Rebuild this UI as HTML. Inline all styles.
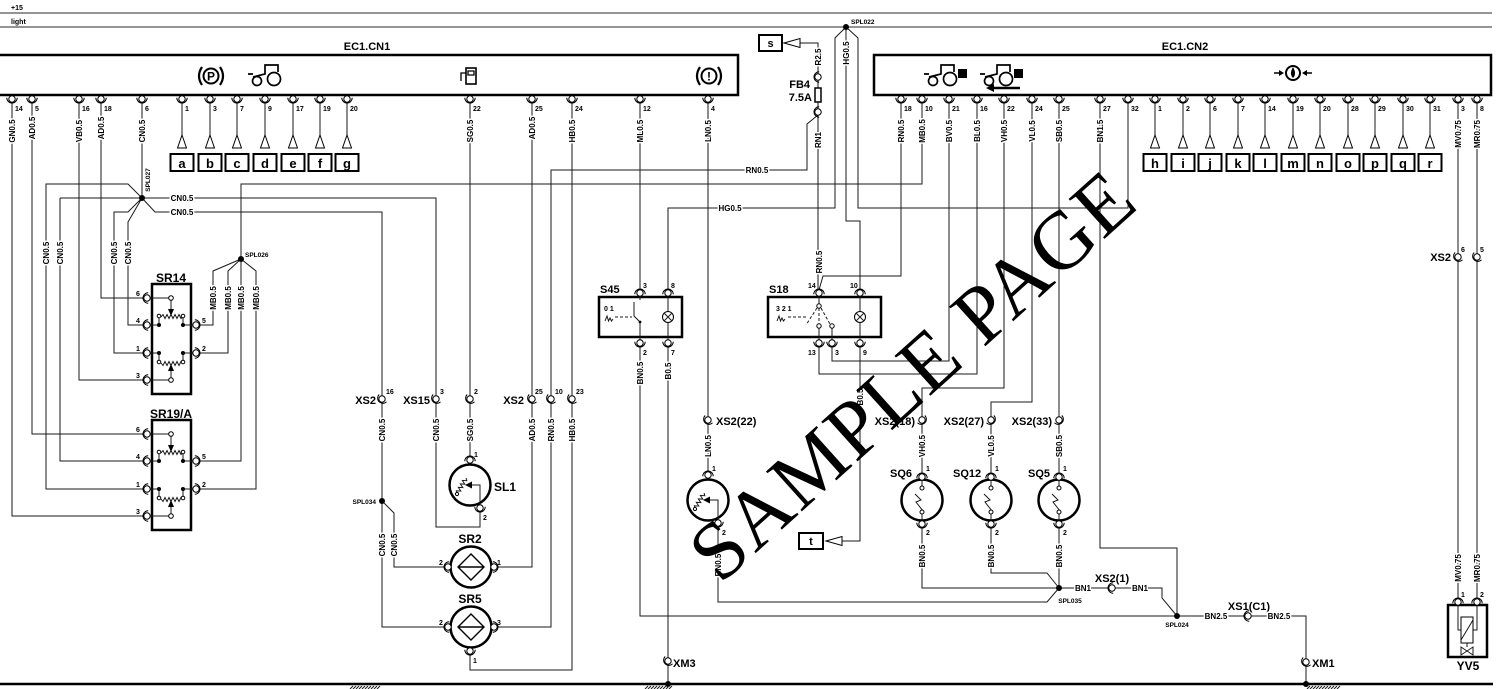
<!DOCTYPE html>
<html><head><meta charset="utf-8"><title>Wiring diagram</title>
<style>
html,body{margin:0;padding:0;background:#fff;width:1500px;height:689px;overflow:hidden}
svg{display:block}
text{font-family:"Liberation Sans",Arial,sans-serif;font-weight:bold;fill:#000}
.w{fill:none;stroke:#1a1a1a;stroke-width:1}
.b{fill:none;stroke:#000;stroke-width:2.5}
.f{fill:#fff;stroke:#000;stroke-width:1}
.wl{font-size:8px;stroke:#fff;stroke-width:3px;paint-order:stroke;stroke-linejoin:round}
.pn{font-size:7px}
.cl{font-size:12px}
.lb{font-size:11px}
.sp{font-size:6.5px}
.lt{font-size:13px}
</style></head><body>
<svg width="1500" height="689" viewBox="0 0 1500 689" xmlns="http://www.w3.org/2000/svg">
<defs>
<g id="pd"><path d="M-5.2,-1.2 A5.2,5.2 0 0 0 5.2,-1.2" fill="none" stroke="#000" stroke-width="1"/><circle r="3.2" fill="#fff" stroke="#000" stroke-width="1"/></g>
<g id="tr" fill="none" stroke="#000" stroke-width="1.7"><circle cx="9" cy="3" r="6.5"/><circle cx="-8" cy="5" r="4.5"/><path d="M-12,1 L0,-2 V-11 H13 V-4 M-17,-2 H-12"/></g>
</defs>

<!-- rails -->
<line x1="0" y1="13" x2="1492" y2="13" stroke="#555" stroke-width="1.3"/>
<line x1="0" y1="27" x2="1492" y2="27" stroke="#555" stroke-width="1.3"/>
<text x="11" y="10" font-size="7">+15</text>
<text x="11" y="24" font-size="7">light</text>
<text x="851" y="24" class="sp">SPL022</text>

<!-- connector boxes -->
<rect x="-3" y="55" width="741" height="40" class="b"/>
<rect x="874" y="55" width="617" height="40" class="b"/>
<text x="367" y="50" font-size="11" text-anchor="middle">EC1.CN1</text>
<text x="1185" y="50" font-size="11" text-anchor="middle">EC1.CN2</text>

<!-- icons CN1 -->
<circle cx="211" cy="76" r="7.5" fill="none" stroke="#000" stroke-width="2"/>
<text x="211" y="80.5" font-size="12" text-anchor="middle">P</text>
<path d="M202,67 Q196,76 202,85 M220,67 Q226,76 220,85" fill="none" stroke="#000" stroke-width="2.2"/>
<use href="#tr" x="265" y="76"/>
<rect x="466" y="68" width="10" height="16" fill="none" stroke="#000" stroke-width="1.6"/>
<path d="M466,73 H461 V81 M468,71 H474 V75 H468 Z" fill="none" stroke="#000" stroke-width="1.3"/>
<circle cx="709" cy="76" r="7.5" fill="none" stroke="#000" stroke-width="2"/>
<text x="709" y="80.5" font-size="12" text-anchor="middle">!</text>
<path d="M700,67 Q694,76 700,85 M718,67 Q724,76 718,85" fill="none" stroke="#000" stroke-width="2.2"/>

<!-- icons CN2 -->
<use href="#tr" x="941" y="76"/>
<rect x="958" y="69" width="9" height="9" fill="#000"/>
<use href="#tr" x="997" y="76"/>
<rect x="1014" y="69" width="9" height="9" fill="#000"/>
<path d="M993,88 H1020" stroke="#000" stroke-width="2.5"/>
<polygon points="986,88 994,84 994,92" fill="#000"/>
<circle cx="1293" cy="73" r="7" fill="none" stroke="#000" stroke-width="2"/>
<path d="M1293,67 Q1297,74 1293,78 Q1289,74 1293,67Z" fill="#000"/>
<path d="M1274,73 H1280 M1306,73 H1312" stroke="#000" stroke-width="1.5"/>
<polygon points="1284,73 1279,70 1279,76" fill="#000"/>
<polygon points="1302,73 1307,70 1307,76" fill="#000"/>

<!-- wires -->
<path class="w" d="
M12,102V516H144
M32,102V434H144
M79,102V380H144
M101,102V298H144
M142,102V198
M60,198H436V527H480V511
M60,198V461H144
M142,198L128,184H46V489H144
M142,198L155,212H382V627H445
M142,198L128,212H114V353H144
M142,198L128,222V325H144
M922,102V184H241V461H199
M241,259L213,271V325H199
M241,259L228,271V353H199
M241,259L256,271V489H199
M382,501L394,513V567H445
M470,102V457
M532,102V567H497
M572,102V670H470V654
M818,115L807,124V170H551V627H497
M640,102V290
M708,102V474
M846,27L835,38V208H668V290
M846,27L858,38V208H1128V102
M846,27V221H860V290
M818,74V43H800
M818,80V88
M818,102V109
M818,115V290
M901,102V276H823L819,290
M640,346V616H1177
M668,346V658
M668,664V684
M860,346V541H842
M819,346V374H977V102
M832,346V361H949V102
M1004,102V388H922V474
M1032,102V402H991V474
M1059,102V474
M1100,102V548H1177V616
M922,527V588H1059
M991,527V573H1047L1059,588
M1059,527V588
M718,526V602H1047L1059,588
M1059,588H1162V598L1177,616
M1177,616H1306V684
M1458,102V599
M1477,102V599
M182,102V135 M210,102V135 M237,102V135 M265,102V135 M293,102V135 M320,102V135 M347,102V135
M1155,102V135 M1183,102V135 M1210,102V135 M1238,102V135 M1265,102V135 M1293,102V135 M1320,102V135 M1348,102V135 M1375,102V135 M1403,102V135 M1430,102V135
"/>

<!-- letter arrows and boxes -->
<g fill="#fff" stroke="#000" stroke-width="1">
<polygon points="182,135 177.5,148 186.5,148"/><polygon points="210,135 205.5,148 214.5,148"/><polygon points="237,135 232.5,148 241.5,148"/><polygon points="265,135 260.5,148 269.5,148"/><polygon points="293,135 288.5,148 297.5,148"/><polygon points="320,135 315.5,148 324.5,148"/><polygon points="347,135 342.5,148 351.5,148"/>
<polygon points="1155,135 1150.5,148 1159.5,148"/><polygon points="1183,135 1178.5,148 1187.5,148"/><polygon points="1210,135 1205.5,148 1214.5,148"/><polygon points="1238,135 1233.5,148 1242.5,148"/><polygon points="1265,135 1260.5,148 1269.5,148"/><polygon points="1293,135 1288.5,148 1297.5,148"/><polygon points="1320,135 1315.5,148 1324.5,148"/><polygon points="1348,135 1343.5,148 1352.5,148"/><polygon points="1375,135 1370.5,148 1379.5,148"/><polygon points="1403,135 1398.5,148 1407.5,148"/><polygon points="1430,135 1425.5,148 1434.5,148"/>
</g>
<g fill="none" stroke="#000" stroke-width="2">
<rect x="170.5" y="154" width="23" height="17"/><rect x="198.5" y="154" width="23" height="17"/><rect x="225.5" y="154" width="23" height="17"/><rect x="253.5" y="154" width="23" height="17"/><rect x="281.5" y="154" width="23" height="17"/><rect x="308.5" y="154" width="23" height="17"/><rect x="335.5" y="154" width="23" height="17"/>
<rect x="1143.5" y="154" width="23" height="17"/><rect x="1171.5" y="154" width="23" height="17"/><rect x="1198.5" y="154" width="23" height="17"/><rect x="1226.5" y="154" width="23" height="17"/><rect x="1253.5" y="154" width="23" height="17"/><rect x="1281.5" y="154" width="23" height="17"/><rect x="1308.5" y="154" width="23" height="17"/><rect x="1336.5" y="154" width="23" height="17"/><rect x="1363.5" y="154" width="23" height="17"/><rect x="1391.5" y="154" width="23" height="17"/><rect x="1418.5" y="154" width="23" height="17"/>
</g>
<g class="lt" text-anchor="middle">
<text x="182" y="168">a</text><text x="210" y="168">b</text><text x="237" y="168">c</text><text x="265" y="168">d</text><text x="293" y="168">e</text><text x="320" y="168">f</text><text x="347" y="168">g</text>
<text x="1155" y="168">h</text><text x="1183" y="168">i</text><text x="1210" y="168">j</text><text x="1238" y="168">k</text><text x="1265" y="168">l</text><text x="1293" y="168">m</text><text x="1320" y="168">n</text><text x="1348" y="168">o</text><text x="1375" y="168">p</text><text x="1403" y="168">q</text><text x="1430" y="168">r</text>
</g>

<!-- s / t arrows -->
<rect x="759" y="35" width="23" height="16" fill="none" stroke="#000" stroke-width="2"/>
<text x="770.5" y="47" font-size="11" text-anchor="middle">s</text>
<polygon points="784,43 800,38.5 800,47.5" fill="#fff" stroke="#000" stroke-width="1"/>
<rect x="799" y="533" width="24" height="16" fill="none" stroke="#000" stroke-width="2"/>
<text x="811" y="545" font-size="11" text-anchor="middle">t</text>
<polygon points="826,541 842,536.5 842,545.5" fill="#fff" stroke="#000" stroke-width="1"/>

<!-- fuse -->
<rect x="815" y="88" width="6" height="14" fill="#fff" stroke="#000" stroke-width="1.5"/>
<text x="810" y="88" class="lb" text-anchor="end">FB4</text>
<text x="812" y="101" class="lb" text-anchor="end">7.5A</text>

<!-- SR14 -->
<g id="sr">
<rect x="152" y="284" width="39" height="110" class="b"/>
<path class="w" d="M150,298H168.7 M171,300.5V309 M150,325H159 M183,325H193 M159,318V325 M183,318V325 M150,353H159 M183,353H193 M159,353V360 M183,353V360 M171,371V377.7 M150,380H168.7"/>
<path class="w" d="M161,317 l2,-2.5 2,4 2,-4 2,4 2,-4 2,4 2,-4 2,4 2,-4 2,4 2,-2"/>
<path class="w" d="M161,363 l2,2.5 2,-4 2,4 2,-4 2,4 2,-4 2,4 2,-4 2,4 2,-4 2,2"/>
<polygon points="168,309 174,309 171,316" fill="#000"/>
<polygon points="168,371 174,371 171,364" fill="#000"/>
<circle cx="171" cy="298" r="2.3" class="f"/>
<circle cx="171" cy="380" r="2.3" class="f"/>
<circle cx="159" cy="316" r="1.8" class="f"/><circle cx="183" cy="316" r="1.8" class="f"/>
<circle cx="159" cy="362" r="1.8" class="f"/><circle cx="183" cy="362" r="1.8" class="f"/>
<circle cx="159" cy="325" r="2" fill="#000"/><circle cx="183" cy="325" r="2" fill="#000"/>
<circle cx="159" cy="353" r="2" fill="#000"/><circle cx="183" cy="353" r="2" fill="#000"/>
</g>
<use href="#sr" transform="translate(0,136)"/>
<text x="171" y="282" class="cl" text-anchor="middle">SR14</text>
<text x="171" y="418" class="cl" text-anchor="middle">SR19/A</text>
<g class="pn" text-anchor="middle">
<text x="138" y="296">6</text><text x="138" y="323">4</text><text x="138" y="351">1</text><text x="138" y="378">3</text><text x="204" y="323">5</text><text x="204" y="351">2</text>
<text x="138" y="432">6</text><text x="138" y="459">4</text><text x="138" y="487">1</text><text x="138" y="514">3</text><text x="204" y="459">5</text><text x="204" y="487">2</text>
</g>

<!-- S45 -->
<rect x="599" y="297" width="83" height="40" class="b"/>
<text x="600" y="293" class="lb">S45</text>
<text x="604" y="311" font-size="7">0 1</text>
<path class="w" d="M605,321 l2,-5 l1.5,5 l1.5,-3 l1.5,3 l1.5,-2"/>
<path class="w" d="M615,317 H632" stroke-dasharray="3,2"/>
<path class="w" d="M640,296 V300 M634,302 V316 L639,321 M640,322 V340 M668,296 V311.5 M668,322.5 V340"/>
<circle cx="640" cy="322" r="1.4" fill="#000"/>
<circle cx="668" cy="317" r="5.5" class="f"/>
<path class="w" d="M664,313 L672,321 M672,313 L664,321"/>

<!-- S18 -->
<rect x="768" y="297" width="113" height="40" class="b"/>
<text x="769" y="293" class="lb">S18</text>
<text x="776" y="311" font-size="7">3 2 1</text>
<path class="w" d="M777,321 l2,-5 l1.5,5 l1.5,-3 l1.5,3 l1.5,-2"/>
<path class="w" d="M788,317 H806" stroke-dasharray="3,2"/>
<path class="w" d="M819,308 V324 M817,308 L806,325 M821,308 L830,324" stroke-dasharray="3,2"/>
<path class="w" d="M819,296 V304 M819,328 V340 M832,328 V340 M860,296 V311.5 M860,322.5 V340"/>
<circle cx="819" cy="306" r="2.2" class="f"/>
<circle cx="819" cy="326" r="2.2" class="f"/>
<circle cx="832" cy="326" r="2.2" class="f"/>
<circle cx="860" cy="317" r="5.5" class="f"/>
<path class="w" d="M856,313 L864,321 M864,313 L856,321"/>

<!-- SL1 and unnamed sensor -->
<g id="sl">
<circle cx="470" cy="485" r="20.5" class="b"/>
<g transform="translate(462,486) rotate(-60)"><path class="w" d="M-9,0 l2,-2.5 2,4 2,-4 2,4 2,-4 2,4 2,-4 2,4 2,-2"/></g>
<circle cx="457" cy="494" r="1.6" class="f"/>
<polygon points="465,485 472,481.5 472,488.5" fill="#000"/>
<path class="w" d="M472,485 H480 V505"/>
</g>
<use href="#sl" transform="translate(238,15)"/>
<text x="494" y="491" class="cl">SL1</text>

<!-- SQ sensors -->
<g id="sq">
<circle cx="922" cy="500" r="20.5" class="b"/>
<path class="w" d="M922,480V486 M922,514V520 M915,494 L921,500 L916,502 L923,511"/>
<circle cx="922" cy="488" r="2" class="f"/>
<circle cx="922" cy="512" r="2" class="f"/>
</g>
<use href="#sq" transform="translate(69,0)"/>
<use href="#sq" transform="translate(137,0)"/>
<text x="890" y="477" class="lb">SQ6</text>
<text x="953" y="477" class="lb">SQ12</text>
<text x="1028" y="477" class="lb">SQ5</text>

<!-- SR2 / SR5 -->
<g id="srr">
<circle cx="471" cy="567" r="20.5" class="b"/>
<path d="M471,554 L484,567 L471,580 L458,567 Z M459,567 H483" fill="none" stroke="#000" stroke-width="1.4"/>
</g>
<use href="#srr" transform="translate(0,60)"/>
<text x="470" y="543" class="cl" text-anchor="middle">SR2</text>
<text x="470" y="603" class="cl" text-anchor="middle">SR5</text>

<!-- YV5 -->
<rect x="1448" y="605" width="39" height="52" class="b"/>
<path class="w" d="M1458,605 V630 H1461 M1477,605 V630 H1473 M1461,640 L1473,620 M1467,643 V647"/>
<rect x="1461" y="617" width="12" height="26" fill="none" stroke="#000" stroke-width="1"/>
<path class="w" d="M1461,647 L1473,655 V647 L1461,655 Z"/>
<text x="1468" y="670" class="cl" text-anchor="middle">YV5</text>

<!-- splice dots -->
<g fill="#000">
<circle cx="846" cy="27" r="3"/><circle cx="142" cy="198" r="3"/><circle cx="241" cy="259" r="3"/>
<circle cx="382" cy="501" r="3"/><circle cx="1059" cy="588" r="3"/><circle cx="1177" cy="616" r="3"/>
<circle cx="668" cy="684" r="3"/><circle cx="1306" cy="684" r="3"/>
</g>
<text x="148" y="180" class="sp" transform="rotate(-90 148 180)" text-anchor="middle" dy="2">SPL027</text>
<text x="245" y="257" class="sp">SPL026</text>
<text x="376" y="504" class="sp" text-anchor="end">SPL034</text>
<text x="1070" y="603" class="sp" text-anchor="middle">SPL035</text>
<text x="1177" y="627" class="sp" text-anchor="middle">SPL024</text>

<!-- ground -->
<line x1="0" y1="684" x2="1493" y2="684" stroke="#000" stroke-width="2.5"/>
<path class="w" d="M350,689l3,-3M353,689l3,-3M356,689l3,-3M359,689l3,-3M362,689l3,-3M365,689l3,-3M368,689l3,-3M371,689l3,-3M374,689l3,-3M377,689l3,-3
M645,689l3,-3M648,689l3,-3M651,689l3,-3M654,689l3,-3M657,689l3,-3M660,689l3,-3M663,689l3,-3M666,689l3,-3M669,689l3,-3
M1307,689l3,-3M1310,689l3,-3M1313,689l3,-3M1316,689l3,-3M1319,689l3,-3M1322,689l3,-3M1325,689l3,-3M1328,689l3,-3M1331,689l3,-3M1334,689l3,-3M1337,689l3,-3"/>

<!-- pins -->
<g>
<use href="#pd" transform="translate(12,99)"/><use href="#pd" transform="translate(32,99)"/><use href="#pd" transform="translate(79,99)"/><use href="#pd" transform="translate(101,99)"/><use href="#pd" transform="translate(142,99)"/><use href="#pd" transform="translate(182,99)"/><use href="#pd" transform="translate(210,99)"/><use href="#pd" transform="translate(237,99)"/><use href="#pd" transform="translate(265,99)"/><use href="#pd" transform="translate(293,99)"/><use href="#pd" transform="translate(320,99)"/><use href="#pd" transform="translate(347,99)"/><use href="#pd" transform="translate(470,99)"/><use href="#pd" transform="translate(532,99)"/><use href="#pd" transform="translate(572,99)"/><use href="#pd" transform="translate(640,99)"/><use href="#pd" transform="translate(708,99)"/>
<use href="#pd" transform="translate(901,99)"/><use href="#pd" transform="translate(922,99)"/><use href="#pd" transform="translate(949,99)"/><use href="#pd" transform="translate(977,99)"/><use href="#pd" transform="translate(1004,99)"/><use href="#pd" transform="translate(1032,99)"/><use href="#pd" transform="translate(1059,99)"/><use href="#pd" transform="translate(1100,99)"/><use href="#pd" transform="translate(1128,99)"/><use href="#pd" transform="translate(1155,99)"/><use href="#pd" transform="translate(1183,99)"/><use href="#pd" transform="translate(1210,99)"/><use href="#pd" transform="translate(1238,99)"/><use href="#pd" transform="translate(1265,99)"/><use href="#pd" transform="translate(1293,99)"/><use href="#pd" transform="translate(1320,99)"/><use href="#pd" transform="translate(1348,99)"/><use href="#pd" transform="translate(1375,99)"/><use href="#pd" transform="translate(1403,99)"/><use href="#pd" transform="translate(1430,99)"/><use href="#pd" transform="translate(1458,99)"/><use href="#pd" transform="translate(1477,99)"/>
<use href="#pd" transform="translate(147,298) rotate(90)"/><use href="#pd" transform="translate(147,325) rotate(90)"/><use href="#pd" transform="translate(147,353) rotate(90)"/><use href="#pd" transform="translate(147,380) rotate(90)"/><use href="#pd" transform="translate(196,325) rotate(-90)"/><use href="#pd" transform="translate(196,353) rotate(-90)"/>
<use href="#pd" transform="translate(147,434) rotate(90)"/><use href="#pd" transform="translate(147,461) rotate(90)"/><use href="#pd" transform="translate(147,489) rotate(90)"/><use href="#pd" transform="translate(147,516) rotate(90)"/><use href="#pd" transform="translate(196,461) rotate(-90)"/><use href="#pd" transform="translate(196,489) rotate(-90)"/>
<use href="#pd" transform="translate(818,77) rotate(90)"/><use href="#pd" transform="translate(818,112) rotate(90)"/>
<use href="#pd" transform="translate(640,293) rotate(180)"/><use href="#pd" transform="translate(668,293) rotate(180)"/><use href="#pd" transform="translate(640,343)"/><use href="#pd" transform="translate(668,343)"/>
<use href="#pd" transform="translate(819,293) rotate(180)"/><use href="#pd" transform="translate(860,293) rotate(180)"/><use href="#pd" transform="translate(819,343)"/><use href="#pd" transform="translate(832,343)"/><use href="#pd" transform="translate(860,343)"/>
<use href="#pd" transform="translate(382,399) rotate(45)"/><use href="#pd" transform="translate(436,399) rotate(45)"/><use href="#pd" transform="translate(470,399) rotate(45)"/><use href="#pd" transform="translate(532,399) rotate(45)"/><use href="#pd" transform="translate(551,399) rotate(45)"/><use href="#pd" transform="translate(572,399) rotate(45)"/>
<use href="#pd" transform="translate(470,460) rotate(180)"/><use href="#pd" transform="translate(480,508)"/>
<use href="#pd" transform="translate(448,567) rotate(90)"/><use href="#pd" transform="translate(494,567) rotate(-90)"/>
<use href="#pd" transform="translate(448,627) rotate(90)"/><use href="#pd" transform="translate(494,627) rotate(-90)"/><use href="#pd" transform="translate(470,651)"/>
<use href="#pd" transform="translate(708,420) rotate(45)"/><use href="#pd" transform="translate(708,475) rotate(180)"/><use href="#pd" transform="translate(718,523)"/>
<use href="#pd" transform="translate(922,420) rotate(-45)"/><use href="#pd" transform="translate(991,420) rotate(-45)"/><use href="#pd" transform="translate(1059,420) rotate(-45)"/>
<use href="#pd" transform="translate(922,477) rotate(180)"/><use href="#pd" transform="translate(922,524)"/>
<use href="#pd" transform="translate(991,477) rotate(180)"/><use href="#pd" transform="translate(991,524)"/>
<use href="#pd" transform="translate(1059,477) rotate(180)"/><use href="#pd" transform="translate(1059,524)"/>
<use href="#pd" transform="translate(668,661) rotate(45)"/><use href="#pd" transform="translate(1306,662) rotate(45)"/>
<use href="#pd" transform="translate(1112,588) rotate(90)"/><use href="#pd" transform="translate(1248,616) rotate(90)"/>
<use href="#pd" transform="translate(1458,257) rotate(45)"/><use href="#pd" transform="translate(1477,257) rotate(45)"/>
<use href="#pd" transform="translate(1458,602) rotate(180)"/><use href="#pd" transform="translate(1477,602) rotate(180)"/>
</g>

<!-- pin numbers -->
<g class="pn">
<text x="15" y="111">14</text><text x="35" y="111">5</text><text x="82" y="111">16</text><text x="104" y="111">18</text><text x="145" y="111">6</text><text x="185" y="111">1</text><text x="213" y="111">3</text><text x="240" y="111">7</text><text x="268" y="111">9</text><text x="296" y="111">17</text><text x="323" y="111">19</text><text x="350" y="111">20</text><text x="473" y="111">22</text><text x="535" y="111">25</text><text x="575" y="111">24</text><text x="643" y="111">12</text><text x="711" y="111">4</text>
<text x="904" y="111">18</text><text x="925" y="111">10</text><text x="952" y="111">21</text><text x="980" y="111">16</text><text x="1007" y="111">22</text><text x="1035" y="111">24</text><text x="1062" y="111">25</text><text x="1103" y="111">27</text><text x="1131" y="111">32</text><text x="1158" y="111">1</text><text x="1186" y="111">2</text><text x="1213" y="111">6</text><text x="1241" y="111">7</text><text x="1268" y="111">14</text><text x="1296" y="111">19</text><text x="1323" y="111">20</text><text x="1351" y="111">28</text><text x="1378" y="111">29</text><text x="1406" y="111">30</text><text x="1433" y="111">31</text><text x="1461" y="111">3</text><text x="1480" y="111">8</text>
<text x="643" y="288">3</text><text x="671" y="288">8</text><text x="643" y="355">2</text><text x="671" y="355">7</text>
<text x="808" y="288">14</text><text x="850" y="288">10</text><text x="808" y="355">13</text><text x="835" y="355">3</text><text x="863" y="355">9</text>
<text x="386" y="394">16</text><text x="440" y="394">3</text><text x="474" y="394">2</text><text x="535" y="394">25</text><text x="555" y="394">10</text><text x="576" y="394">23</text>
<text x="474" y="457">1</text><text x="483" y="520">2</text>
<text x="712" y="471">1</text><text x="722" y="535">2</text>
<text x="439" y="565">2</text><text x="497" y="565">1</text><text x="439" y="625">2</text><text x="497" y="625">3</text><text x="473" y="663">1</text>
<text x="926" y="471">1</text><text x="926" y="535">2</text><text x="995" y="471">1</text><text x="995" y="535">2</text><text x="1063" y="471">1</text><text x="1063" y="535">2</text>
<text x="1461" y="252">6</text><text x="1480" y="252">5</text><text x="1461" y="597">1</text><text x="1480" y="597">2</text>
</g>

<!-- connector labels -->
<g class="lb">
<text x="376" y="404" text-anchor="end">XS2</text>
<text x="430" y="404" text-anchor="end">XS15</text>
<text x="524" y="404" text-anchor="end">XS2</text>
<text x="716" y="425">XS2(22)</text>
<text x="915" y="425" text-anchor="end">XS2(18)</text>
<text x="984" y="425" text-anchor="end">XS2(27)</text>
<text x="1052" y="425" text-anchor="end">XS2(33)</text>
<text x="673" y="667">XM3</text>
<text x="1312" y="667">XM1</text>
<text x="1112" y="582" text-anchor="middle">XS2(1)</text>
<text x="1249" y="610" text-anchor="middle">XS1(C1)</text>
<text x="1451" y="261" text-anchor="end">XS2</text>
</g>

<!-- wire labels vertical -->
<g class="wl" text-anchor="middle">
<text transform="translate(12,131) rotate(-90)" y="3">GN0.5</text>
<text transform="translate(32,128) rotate(-90)" y="3">AD0.5</text>
<text transform="translate(79,131) rotate(-90)" y="3">VB0.5</text>
<text transform="translate(101,128) rotate(-90)" y="3">AD0.5</text>
<text transform="translate(142,131) rotate(-90)" y="3">CN0.5</text>
<text transform="translate(470,131) rotate(-90)" y="3">SG0.5</text>
<text transform="translate(532,128) rotate(-90)" y="3">AD0.5</text>
<text transform="translate(572,131) rotate(-90)" y="3">HB0.5</text>
<text transform="translate(640,131) rotate(-90)" y="3">ML0.5</text>
<text transform="translate(708,131) rotate(-90)" y="3">LN0.5</text>
<text transform="translate(901,131) rotate(-90)" y="3">RN0.5</text>
<text transform="translate(922,131) rotate(-90)" y="3">MB0.5</text>
<text transform="translate(949,131) rotate(-90)" y="3">BV0.5</text>
<text transform="translate(977,131) rotate(-90)" y="3">BL0.5</text>
<text transform="translate(1004,131) rotate(-90)" y="3">VH0.5</text>
<text transform="translate(1032,131) rotate(-90)" y="3">VL0.5</text>
<text transform="translate(1059,131) rotate(-90)" y="3">SB0.5</text>
<text transform="translate(1100,131) rotate(-90)" y="3">BN1.5</text>
<text transform="translate(1458,134) rotate(-90)" y="3">MV0.75</text>
<text transform="translate(1477,134) rotate(-90)" y="3">MR0.75</text>
<text transform="translate(46,253) rotate(-90)" y="3">CN0.5</text>
<text transform="translate(60,253) rotate(-90)" y="3">CN0.5</text>
<text transform="translate(114,253) rotate(-90)" y="3">CN0.5</text>
<text transform="translate(128,253) rotate(-90)" y="3">CN0.5</text>
<text transform="translate(213,298) rotate(-90)" y="3">MB0.5</text>
<text transform="translate(228,298) rotate(-90)" y="3">MB0.5</text>
<text transform="translate(241,298) rotate(-90)" y="3">MB0.5</text>
<text transform="translate(256,298) rotate(-90)" y="3">MB0.5</text>
<text transform="translate(846,53) rotate(-90)" y="3">HG0.5</text>
<text transform="translate(818,57) rotate(-90)" y="3">R2.5</text>
<text transform="translate(818,140) rotate(-90)" y="3">RN1</text>
<text transform="translate(819,262) rotate(-90)" y="3">RN0.5</text>
<text transform="translate(860,397) rotate(-90)" y="3">B0.5</text>
<text transform="translate(640,373) rotate(-90)" y="3">BN0.5</text>
<text transform="translate(668,371) rotate(-90)" y="3">B0.5</text>
<text transform="translate(382,430) rotate(-90)" y="3">CN0.5</text>
<text transform="translate(436,430) rotate(-90)" y="3">CN0.5</text>
<text transform="translate(470,430) rotate(-90)" y="3">SG0.5</text>
<text transform="translate(532,430) rotate(-90)" y="3">AD0.5</text>
<text transform="translate(551,430) rotate(-90)" y="3">RN0.5</text>
<text transform="translate(572,430) rotate(-90)" y="3">HB0.5</text>
<text transform="translate(382,545) rotate(-90)" y="3">CN0.5</text>
<text transform="translate(394,545) rotate(-90)" y="3">CN0.5</text>
<text transform="translate(708,446) rotate(-90)" y="3">LN0.5</text>
<text transform="translate(922,446) rotate(-90)" y="3">VH0.5</text>
<text transform="translate(991,446) rotate(-90)" y="3">VL0.5</text>
<text transform="translate(1059,446) rotate(-90)" y="3">SB0.5</text>
<text transform="translate(718,565) rotate(-90)" y="3">BN0.5</text>
<text transform="translate(922,556) rotate(-90)" y="3">BN0.5</text>
<text transform="translate(991,556) rotate(-90)" y="3">BN0.5</text>
<text transform="translate(1059,556) rotate(-90)" y="3">BN0.5</text>
<text transform="translate(1458,568) rotate(-90)" y="3">MV0.75</text>
<text transform="translate(1477,568) rotate(-90)" y="3">MR0.75</text>
</g>
<!-- wire labels horizontal -->
<g class="wl" text-anchor="middle">
<text x="182" y="201">CN0.5</text>
<text x="182" y="215">CN0.5</text>
<text x="757" y="173">RN0.5</text>
<text x="730" y="211">HG0.5</text>
<text x="1083" y="591">BN1</text>
<text x="1140" y="591">BN1</text>
<text x="1216" y="619">BN2.5</text>
<text x="1279" y="619">BN2.5</text>
</g>

<!-- watermark -->
<text transform="translate(912,376) rotate(-42)" x="0" y="27" text-anchor="middle" font-family="'Liberation Serif',serif" font-weight="normal" font-size="82" textLength="565" lengthAdjust="spacing" fill="#111" style="font-family:'Liberation Serif',serif;font-weight:normal">SAMPLE PAGE</text>
</svg>
</body></html>
